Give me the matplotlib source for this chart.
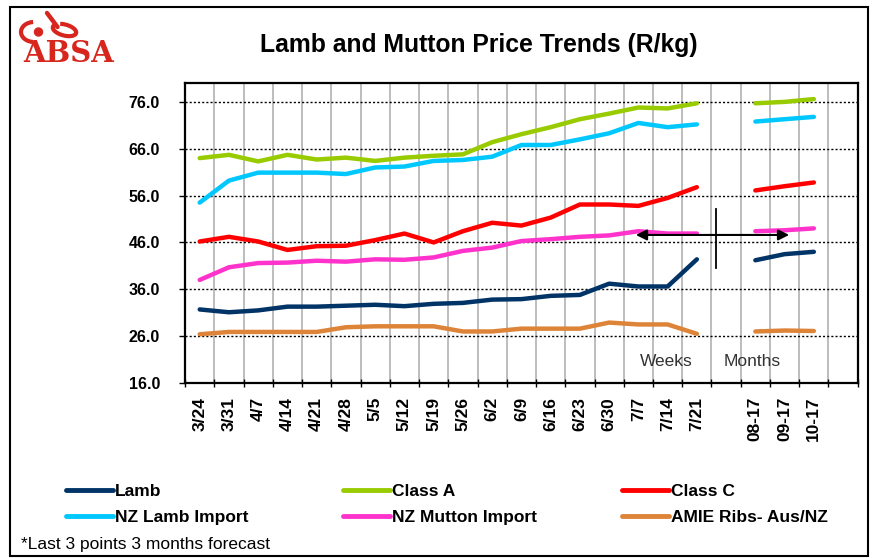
import numpy as np
import matplotlib.pyplot as plt
from matplotlib.patches import Rectangle, Arc, Circle
from matplotlib.lines import Line2D

# Categories (weeks, gap, months, gap)
labels = ['3/24', '3/31', '4/7', '4/14', '4/21', '4/28', '5/5', '5/12', '5/19', '5/26',
          '6/2', '6/9', '6/16', '6/23', '6/30', '7/7', '7/14', '7/21', '',
          '08-17', '09-17', '10-17', '']
nan = np.nan

lamb = [31.7, 31.1, 31.5, 32.3, 32.3, 32.5, 32.7, 32.4, 32.9, 33.1, 33.8, 33.9, 34.6, 34.8,
        37.2, 36.6, 36.6, 42.4, nan, 42.2, 43.5, 44.0, nan]
class_a = [64.0, 64.7, 63.3, 64.7, 63.7, 64.1, 63.4, 64.1, 64.5, 64.8, 67.4, 69.1, 70.6, 72.3,
           73.5, 74.8, 74.6, 75.7, nan, 75.7, 76.0, 76.6, nan]
class_c = [46.2, 47.2, 46.2, 44.4, 45.2, 45.3, 46.5, 47.9, 46.0, 48.4, 50.2, 49.6, 51.3, 54.1,
           54.1, 53.8, 55.5, 57.8, nan, 57.1, 58.0, 58.8, nan]
nz_lamb = [54.5, 59.2, 60.9, 60.9, 60.9, 60.6, 62.0, 62.2, 63.4, 63.6, 64.3, 66.8, 66.8, 68.0,
           69.3, 71.5, 70.6, 71.2, nan, 71.8, 72.3, 72.8, nan]
nz_mutton = [38.0, 40.7, 41.6, 41.7, 42.1, 41.9, 42.4, 42.3, 42.8, 44.2, 44.9, 46.3, 46.7, 47.2,
             47.5, 48.4, 47.9, 47.9, nan, 48.4, 48.6, 49.0, nan]
amie = [26.4, 26.9, 26.9, 26.9, 26.9, 27.9, 28.1, 28.1, 28.1, 27.0, 27.0, 27.6, 27.6, 27.6,
        28.9, 28.5, 28.5, 26.5, nan, 27.0, 27.2, 27.1, nan]

series = [('Lamb', lamb, '#003366'),
          ('NZ Lamb Import', nz_lamb, '#00c8ff'),
          ('Class A', class_a, '#99cc00'),
          ('NZ Mutton Import', nz_mutton, '#ff33cc'),
          ('Class C', class_c, '#ff0000'),
          ('AMIE Ribs- Aus/NZ', amie, '#dd8438')]

plt.rcParams['font.family'] = ['Liberation Sans', 'DejaVu Sans']

fig = plt.figure(figsize=(8.73, 5.58), dpi=100)
ax = fig.add_axes([0.212, 0.3136, 0.7705, 0.5374])

x = np.arange(len(labels))
handles = []
for name, vals, col in series:
    ln, = ax.plot(x, vals, color=col, lw=3.2, label=name, solid_capstyle='round')
    handles.append(ln)

ax.set_xlim(-0.5, len(labels) - 0.5)
ax.set_ylim(16, 80)
ax.set_yticks(np.arange(16, 77, 10))
ax.set_yticklabels(['%.1f' % v for v in np.arange(16, 77, 10)], fontweight='bold', fontsize=11.5)
ax.tick_params(axis='y', length=4, width=1, pad=14)

ax.set_xticks(np.arange(-0.5, len(labels), 1))
ax.set_xticklabels([])
ax.set_xticks(x, minor=True)
ax.set_xticklabels(labels, minor=True, rotation=90, fontweight='bold', fontsize=12.5)
ax.tick_params(axis='x', which='major', length=6, width=1, direction='inout')
ax.tick_params(axis='x', which='minor', length=0, pad=10)

# grid: gray vertical at boundaries, dotted black horizontal
for b in np.arange(0.5, len(labels) - 0.5, 1):
    ax.axvline(b, color='#b8b8b8', lw=1.3, zorder=0)
for v in np.arange(26, 77, 10):
    ax.axhline(v, color='black', lw=1.0, ls=(0, (1.5, 1.5)), zorder=0.5)

for s in ax.spines.values():
    s.set_linewidth(1.6)

# arrow + divider
ax.annotate('', xy=(14.82, 47.6), xytext=(20.25, 47.6),
            arrowprops=dict(arrowstyle='<|-|>', color='black', lw=1.5, mutation_scale=16))
ax.plot([17.66, 17.66], [40.5, 53.2], color='black', lw=1.3)
ax.text(15.95, 20.6, 'Weeks', ha='center', va='center', fontsize=12.5, color='#333333')
ax.text(18.9, 20.6, 'Months', ha='center', va='center', fontsize=12.5, color='#333333')

# title
fig.text(0.548, 0.919, 'Lamb and Mutton Price Trends (R/kg)', ha='center', va='center',
         fontsize=17.8, fontweight='bold')

# legend: three columns of two entries
col_x = [66, 343, 622]
for k in range(3):
    leg = fig.legend(handles=handles[2 * k:2 * k + 2], loc='center left',
                     bbox_to_anchor=(col_x[k] / 873, 0.0959), frameon=False,
                     borderpad=0, borderaxespad=0, handlelength=2.7, handletextpad=0.12,
                     labelspacing=0.62, prop={'weight': 'bold', 'size': 12.5})
    for h in leg.get_lines():
        h.set_linewidth(3.5)

fig.text(0.024, 0.024, '*Last 3 points 3 months forecast', ha='left', va='center',
         fontsize=12.5)

# ABSA logo
red = '#d7261e'
fig.text(0.027, 0.905, 'ABSA', ha='left', va='center', fontsize=21, color=red,
         family=['DejaVu Serif'], fontweight='bold')
inch = fig.dpi_scale_trans
fig.patches.append(Arc((0.34, 5.26), 0.26, 0.20, theta1=95, theta2=265,
                       transform=inch, color=red, lw=3))
fig.patches.append(Circle((0.385, 5.26), 0.04, transform=inch, color=red))
fig.lines.append(Line2D([0.47, 0.575], [5.45, 5.31], transform=inch, color=red, lw=3.2,
                        solid_capstyle='round'))
fig.patches.append(Arc((0.645, 5.28), 0.24, 0.11, angle=-15, theta1=-200, theta2=140,
                       transform=inch, color=red, lw=3))

# outer border
fig.patches.append(Rectangle((0.012, 0.004), 0.982, 0.984, transform=fig.transFigure,
                             fill=False, edgecolor='black', lw=1.5))

fig.savefig('out.png', dpi=100)
